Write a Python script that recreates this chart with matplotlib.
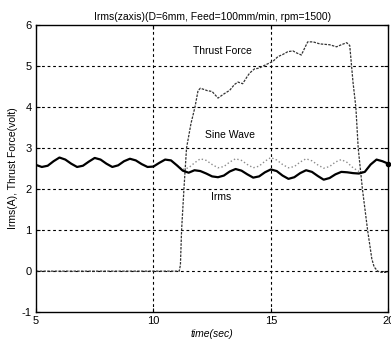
import matplotlib
import matplotlib.pyplot as plt
matplotlib.use('agg')

plt.rcParams['font.family'] = ['Liberation Sans', 'DejaVu Sans']
plt.rcParams['axes.unicode_minus'] = False

#Irms current, every 0.25 sec
t_irms = [5.0, 5.25, 5.5, 5.75, 6.0, 6.25, 6.5, 6.75, 7.0, 7.25, 7.5, 7.75, 8.0, 8.25, 8.5, 8.75,
          9.0, 9.25, 9.5, 9.75, 10.0, 10.25, 10.5, 10.75, 11.0, 11.25, 11.5, 11.75, 12.0, 12.25, 12.5, 12.75,
          13.0, 13.25, 13.5, 13.75, 14.0, 14.25, 14.5, 14.75, 15.0, 15.25, 15.5, 15.75, 16.0, 16.25, 16.5, 16.75,
          17.0, 17.25, 17.5, 17.75, 18.0, 18.25, 18.5, 18.75, 19.0, 19.25, 19.5, 19.75, 20.0]
irms = [2.59, 2.54, 2.57, 2.68, 2.77, 2.72, 2.62, 2.54, 2.57, 2.67, 2.76, 2.72, 2.62, 2.54, 2.58, 2.68,
        2.74, 2.70, 2.61, 2.54, 2.55, 2.64, 2.72, 2.70, 2.58, 2.45, 2.40, 2.46, 2.44, 2.38, 2.31, 2.29,
        2.33, 2.43, 2.49, 2.45, 2.36, 2.28, 2.31, 2.41, 2.48, 2.44, 2.33, 2.25, 2.29, 2.39, 2.46, 2.42,
        2.32, 2.23, 2.27, 2.36, 2.42, 2.41, 2.39, 2.38, 2.42, 2.60, 2.72, 2.68, 2.62]

#sine wave (same as irms until drilling starts at ~11 sec)
t_sine = [11.0, 11.25, 11.5, 11.75, 12.0, 12.25, 12.5, 12.75, 13.0, 13.25, 13.5, 13.75, 14.0, 14.25,
          14.5, 14.75, 15.0, 15.25, 15.5, 15.75, 16.0, 16.25, 16.5, 16.75, 17.0, 17.25, 17.5, 17.75,
          18.0, 18.25, 18.5, 18.75, 19.0]
sine = [2.58, 2.48, 2.52, 2.64, 2.74, 2.70, 2.60, 2.52, 2.55, 2.66, 2.74, 2.70, 2.60, 2.52,
        2.56, 2.68, 2.77, 2.71, 2.60, 2.52, 2.55, 2.66, 2.74, 2.69, 2.59, 2.51, 2.55, 2.66,
        2.72, 2.65, 2.52, 2.43, 2.42]

#thrust force (volt)
t_thrust = [5.0, 11.1, 11.15, 11.2, 11.3, 11.41, 11.6, 11.77, 11.9, 12.0, 12.3, 12.5, 12.75, 13.0, 13.25,
            13.45, 13.6, 13.8, 14.0, 14.1, 14.3, 14.5, 14.67, 14.96, 15.1, 15.3, 15.5, 15.72, 15.94, 16.1,
            16.3, 16.45, 16.57, 16.8, 17.09, 17.3, 17.5, 17.8, 18.0, 18.23, 18.36, 18.5, 18.62, 18.72, 18.9,
            19.12, 19.3, 19.4, 19.55, 19.7, 20.0]
thrust = [0.0, 0.0, 0.15, 1.0, 2.0, 3.0, 3.6, 4.0, 4.4, 4.46, 4.40, 4.38, 4.22, 4.32, 4.41,
          4.55, 4.61, 4.57, 4.75, 4.83, 4.93, 4.95, 5.0, 5.08, 5.12, 5.23, 5.28, 5.35, 5.37, 5.32,
          5.27, 5.45, 5.59, 5.59, 5.54, 5.53, 5.52, 5.47, 5.52, 5.57, 5.5, 4.6, 4.0, 3.0, 2.0,
          1.0, 0.3, 0.1, 0.0, -0.03, -0.03]

fig = plt.figure(figsize=(3.91, 3.48), dpi=100)
ax = fig.add_axes([0.092, 0.103, 0.901, 0.825])

#grid lines by hand so only the inner ones show
for gx in [10, 15]:
    ax.axvline(gx, color='k', lw=0.8, ls=(0, (2.5, 2.5)), zorder=1)
for gy in [0, 1, 2, 3, 4, 5]:
    ax.axhline(gy, color='k', lw=0.8, ls=(0, (2.5, 2.5)), zorder=1)

ax.plot(t_thrust, thrust, color='0.2', lw=0.9, ls=(0, (2, 1)), zorder=2)
ax.plot(t_sine, sine, color='0.55', lw=1.0, ls=':', zorder=2)
ax.plot(t_irms, irms, color='k', lw=1.6, zorder=3)
ax.plot([t_irms[-1]], [irms[-1]], 'ko', ms=3, zorder=4, clip_on=False)

ax.text(12.96, 5.37, 'Thrust Force', fontsize=7.5, ha='center', va='center')
ax.text(13.26, 3.32, 'Sine Wave', fontsize=7.5, ha='center', va='center')
ax.text(12.9, 1.8, 'Irms', fontsize=7.5, ha='center', va='center')

ax.set_xlim(5, 20)
ax.set_ylim(-1, 6)
ax.set_xticks([5, 10, 15, 20])
ax.set_yticks([-1, 0, 1, 2, 3, 4, 5, 6])
ax.tick_params(direction='in', length=3, labelsize=8, top=True, right=True, pad=3)
for s in ax.spines.values():
    s.set_linewidth(1.0)

ax.set_title('Irms(zaxis)(D=6mm, Feed=100mm/min, rpm=1500)', fontsize=7.5, pad=4)
ax.set_xlabel('time(sec)', fontsize=7.5, style='italic', labelpad=2)
ax.set_ylabel('Irms(A), Thrust Force(volt)', fontsize=7.5, labelpad=3)

fig.savefig('out.png', dpi=100)
